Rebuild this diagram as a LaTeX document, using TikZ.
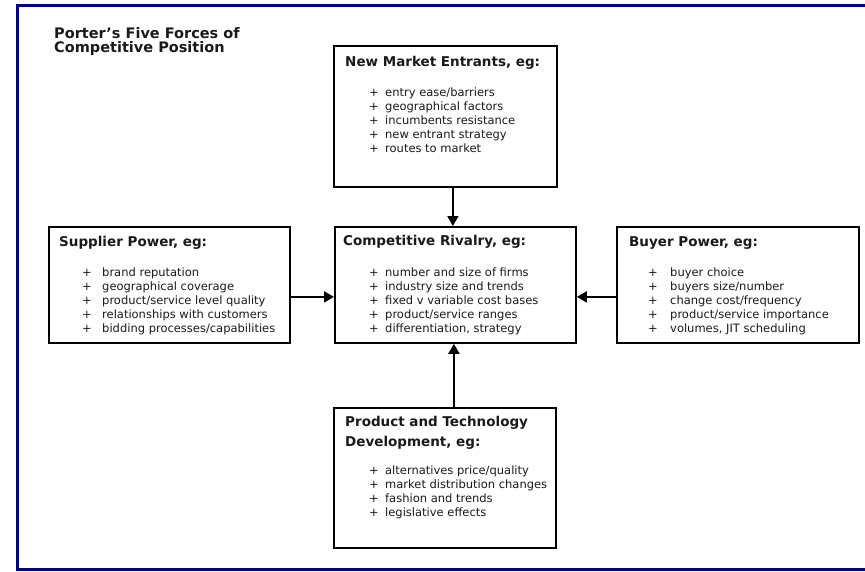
\documentclass[tikz,border=0pt]{standalone}
\usepackage{fontspec}
\setmainfont{DejaVu Sans}
\usetikzlibrary{arrows.meta}
\definecolor{navyframe}{HTML}{000080}
\definecolor{ink}{HTML}{1A1A1A}
\newcommand\headfont{\fontsize{13.5}{16}\selectfont\bfseries}
\newcommand\titlefont{\fontsize{14.5}{16}\selectfont\bfseries}
\newcommand\itemfont{\fontsize{11.5}{14}\selectfont}
\tikzset{
  forcebox/.style={draw=black, line width=1.8pt, rectangle, inner sep=0pt, anchor=north west},
  head/.style={font=\headfont, text=ink, anchor=base west, inner sep=0pt},
  item/.style={font=\itemfont, text=ink, anchor=base west, inner sep=0pt},
  force/.style={-{Triangle[length=10pt,width=11pt]}, line width=1.8pt, draw=black},
}
\begin{document}
\begin{tikzpicture}[x=1pt,y=-1pt]
\useasboundingbox (0,0) rectangle (865,571);
\clip (0,0) rectangle (865,571);
\fill[white] (0,0) rectangle (865,571);
% page frame, running off the right edge
\draw[navyframe, line width=3pt] (17,5) rectangle (880,569);

% title
\node[head, font=\titlefont] (title1) at (54,38) {Porter’s Five Forces of};
\node[head, font=\titlefont] (title2) at (54,52) {Competitive Position};

% the five boxes
\node[forcebox, minimum width=223pt, minimum height=141pt] (entrants) at (333,45) {};
\node[forcebox, minimum width=241pt, minimum height=116pt] (rivalry) at (334,226) {};
\node[forcebox, minimum width=241pt, minimum height=116pt] (supplier) at (48,226) {};
\node[forcebox, minimum width=242pt, minimum height=116pt] (buyer) at (616,226) {};
\node[forcebox, minimum width=222pt, minimum height=140pt] (product) at (333,407) {};

% headings
\node[head] (entrants-h) at (345,66) {New Market Entrants, eg:};
\node[head] (rivalry-h) at (343,245) {Competitive Rivalry, eg:};
\node[head] (supplier-h) at (59,246) {Supplier Power, eg:};
\node[head] (buyer-h) at (629,246) {Buyer Power, eg:};
\node[head] (product-h1) at (345,426) {Product and Technology};
\node[head] (product-h2) at (345,446) {Development, eg:};

% bullet lists
\foreach \t [count=\i] in {entry ease/barriers, geographical factors, incumbents resistance, new entrant strategy, routes to market}
  \node[item] (entrants-\i) at (369,{96+(\i-1)*14}) {\makebox[16pt][l]{+}\t};
\foreach \t [count=\i] in {number and size of firms, industry size and trends, fixed v variable cost bases, product/service ranges, {differentiation, strategy}}
  \node[item] (rivalry-\i) at (369,{276+(\i-1)*14}) {\makebox[16pt][l]{+}\t};
\foreach \t [count=\i] in {brand reputation, geographical coverage, product/service level quality, relationships with customers, bidding processes/capabilities}
  \node[item] (supplier-\i) at (82,{276+(\i-1)*14}) {\makebox[20pt][l]{+}\t};
\foreach \t [count=\i] in {buyer choice, buyers size/number, change cost/frequency, product/service importance, {volumes, JIT scheduling}}
  \node[item] (buyer-\i) at (648,{276+(\i-1)*14}) {\makebox[22pt][l]{+}\t};
\foreach \t [count=\i] in {alternatives price/quality, market distribution changes, fashion and trends, legislative effects}
  \node[item] (product-\i) at (369,{474+(\i-1)*14}) {\makebox[16pt][l]{+}\t};

% the four forces pressing on rivalry
\draw[force] ([xshift=7.5pt]entrants.south) -- ([xshift=7.5pt]entrants.south |- rivalry.north);
\draw[force] ([yshift=-12pt]supplier.east) -- ([yshift=-12pt]supplier.east -| rivalry.west);
\draw[force] ([yshift=-12pt]buyer.west) -- ([yshift=-12pt]buyer.west -| rivalry.east);
\draw[force] ([xshift=9pt]product.north) -- ([xshift=9pt]product.north |- rivalry.south);
\end{tikzpicture}
\end{document}
